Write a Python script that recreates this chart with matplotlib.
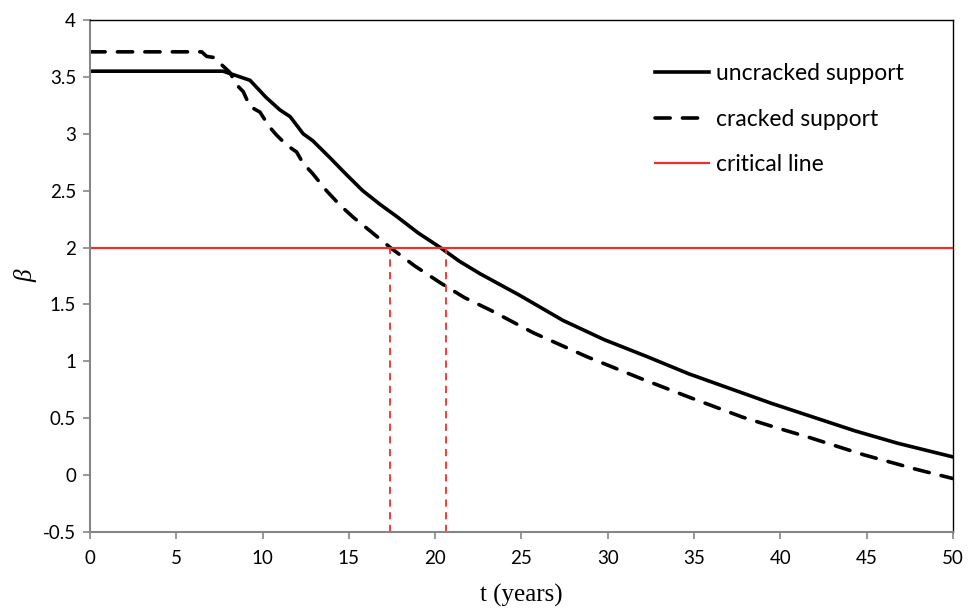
import matplotlib.pyplot as plt
from matplotlib.ticker import FuncFormatter

plt.rcParams['font.family'] = ['Lato', 'DejaVu Sans']
plt.rcParams['axes.unicode_minus'] = False

# uncracked support (solid)
t_uncracked = [0, 7.7, 8.3, 9.27, 10.2, 11.0, 11.6, 12.35, 12.9, 13.9, 14.8, 15.8, 16.8,
               17.8, 19.0, 20.3, 21.4, 22.6, 24.9, 27.4, 29.8, 32.3, 34.7, 37.1,
               39.5, 41.9, 44.3, 46.8, 50]
b_uncracked = [3.55, 3.55, 3.52, 3.47, 3.32, 3.21, 3.15, 3.0, 2.94, 2.79, 2.65, 2.50, 2.38,
               2.27, 2.13, 2.0, 1.88, 1.77, 1.58, 1.36, 1.19, 1.04, 0.89, 0.76,
               0.63, 0.51, 0.39, 0.28, 0.16]

# cracked support (dashed)
t_cracked = [0, 6.47, 6.76, 7.2, 7.53, 8.1, 8.5, 8.88, 9.27, 9.85, 10.4, 10.8, 11.4,
             11.97, 12.35, 12.9, 13.7, 14.5, 15.3, 16.2, 17.4, 18.8, 20.3, 21.7, 23.2,
             25.7, 28.8, 31.9, 34.8, 37.8, 39.7, 41.7, 44.8, 47.9, 50]
b_cracked = [3.72, 3.72, 3.68, 3.67, 3.62, 3.54, 3.43, 3.37, 3.24, 3.19, 3.06, 2.99, 2.90,
             2.84, 2.74, 2.65, 2.50, 2.37, 2.26, 2.15, 2.0, 1.84, 1.69, 1.56, 1.45,
             1.25, 1.04, 0.85, 0.68, 0.51, 0.42, 0.33, 0.18, 0.05, -0.03]

beta_critical = 2.0
t_cross = [17.4, 20.6]

red = '#e8322b'
grey = '#868686'

fig = plt.figure(figsize=(9.77, 6.09), dpi=100)
ax = fig.add_axes([0.0921, 0.1264, 0.8833, 0.8408])

ax.plot(t_uncracked, b_uncracked, color='black', lw=2.6, label='uncracked support',
        solid_joinstyle='round')
line_c, = ax.plot(t_cracked, b_cracked, color='black', lw=2.6, label='cracked support',
                  dash_capstyle='round')
line_c.set_dashes([4.2, 3.4])
ax.axhline(beta_critical, color=red, lw=1.6, label='critical line')
for tc in t_cross:
    ax.plot([tc, tc], [-0.5, beta_critical], color=red, lw=1.3, linestyle=(0, (4, 3)))

ax.set_xlim(0, 50)
ax.set_ylim(-0.5, 4)
ax.set_xticks(range(0, 51, 5))
ax.set_yticks([-0.5, 0, 0.5, 1, 1.5, 2, 2.5, 3, 3.5, 4])
ax.yaxis.set_major_formatter(FuncFormatter(lambda v, p: '%g' % v))

for side in ['left', 'bottom']:
    ax.spines[side].set_color(grey)
    ax.spines[side].set_linewidth(1.5)
for side in ['top', 'right']:
    ax.spines[side].set_color('black')
    ax.spines[side].set_linewidth(1.0)
ax.tick_params(direction='out', length=5, width=1.2, color=grey, labelsize=13.5,
               labelcolor='black', pad=5)
ax.tick_params(axis='x', pad=8)

ax.set_xlabel('t (years)', family='Liberation Serif', fontsize=18, labelpad=12)
ax.set_ylabel('β', family='Liberation Serif', style='italic', fontsize=18, labelpad=4)

leg = ax.legend(loc='upper left', bbox_to_anchor=(0.655, 0.915), frameon=False,
                borderpad=0, borderaxespad=0, fontsize=16.5, labelspacing=1.05,
                handlelength=2.35, handletextpad=0.3)

fig.savefig('out.png', dpi=100)
